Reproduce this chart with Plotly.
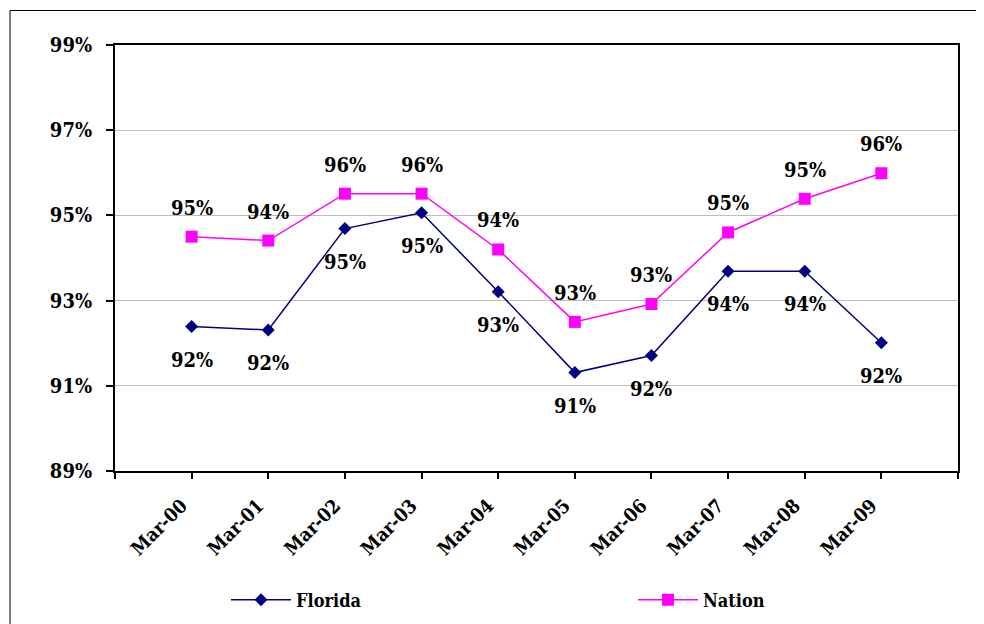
import plotly.graph_objects as go

categories = ["Mar-00", "Mar-01", "Mar-02", "Mar-03", "Mar-04",
              "Mar-05", "Mar-06", "Mar-07", "Mar-08", "Mar-09"]
florida = [92.39, 92.31, 94.69, 95.06, 93.21, 91.31, 91.71, 93.69, 93.69, 92.01]
nation = [94.50, 94.41, 95.51, 95.51, 94.20, 92.50, 92.92, 94.60, 95.39, 95.99]
y_ticks = [89, 91, 93, 95, 97, 99]
y_tick_labels = ["89%", "91%", "93%", "95%", "97%", "99%"]

FONT = "DejaVu Serif Condensed"
FS = 20


def pct(v):
    return f"{int(v + 0.5)}%"


x = list(range(len(categories)))

fig = go.Figure()
fig.add_trace(go.Scatter(
    x=x, y=florida, name="Florida", mode="lines+markers",
    line=dict(color="#000080", width=1.5),
    marker=dict(symbol="diamond", size=10, color="#000080"),
    legend="legend",
))
fig.add_trace(go.Scatter(
    x=x, y=nation, name="Nation", mode="lines+markers",
    line=dict(color="#FF00FF", width=1.5),
    marker=dict(symbol="square", size=12, color="#FF00FF"),
    legend="legend2",
))

bold = dict(family=FONT, size=FS, color="black", weight="bold")
legend_font = dict(family=FONT, size=18, color="black", weight="bold")

annotations = []
for xi, v in zip(x, florida):
    annotations.append(dict(x=xi, y=v, xref="x", yref="y", text=pct(v),
                            showarrow=False, yanchor="middle", xanchor="center",
                            yshift=-33, font=bold))
for xi, v in zip(x, nation):
    annotations.append(dict(x=xi, y=v, xref="x", yref="y", text=pct(v),
                            showarrow=False, yanchor="middle", xanchor="center",
                            yshift=29, font=bold))

tickvals_x = [-1] + x + [len(categories)]
ticktext_x = [""] + categories + [""]

legend_y = (471 - 600) / 426

fig.update_layout(
    width=976, height=616,
    margin=dict(l=107, r=26, t=37, b=153, autoexpand=False),
    paper_bgcolor="white", plot_bgcolor="white",
    font=bold,
    showlegend=True,
    legend=dict(orientation="h", x=(226 - 115) / 843, y=legend_y, xanchor="left", yanchor="middle",
                itemwidth=60, font=legend_font, bgcolor="rgba(0,0,0,0)"),
    legend2=dict(orientation="h", x=(633 - 115) / 843, y=legend_y, xanchor="left", yanchor="middle",
                 itemwidth=60, font=legend_font, bgcolor="rgba(0,0,0,0)"),
    annotations=annotations,
    shapes=[dict(type="rect", xref="paper", yref="paper",
                 x0=(10 - 115) / 843, x1=(1000 - 115) / 843,
                 y0=(471 - 640) / 426, y1=(471 - 10.5) / 426,
                 line=dict(color="black", width=1), fillcolor="rgba(0,0,0,0)", layer="below")],
)

fig.update_xaxes(
    range=[-1, len(categories)], automargin=False,
    tickmode="array", tickvals=tickvals_x, ticktext=ticktext_x,
    tickangle=-45, ticks="outside", ticklen=6, tickcolor="black", tickwidth=1.5,
    ticklabelstandoff=8, ticklabelshift=-10,
    showline=True, linecolor="black", linewidth=2, mirror=True,
    showgrid=False, zeroline=False,
    tickfont=dict(family=FONT, size=19, color="black", weight="bold"),
)
fig.update_yaxes(
    range=[89, 99], automargin=False,
    tickmode="array", tickvals=y_ticks, ticktext=y_tick_labels,
    ticks="outside", ticklen=7, tickcolor="black", tickwidth=1.5,
    ticklabelstandoff=10,
    showline=True, linecolor="black", linewidth=2, mirror=True,
    showgrid=True, gridcolor="#bdbdbd", gridwidth=1, zeroline=False,
    tickfont=bold,
)

fig.write_html("out.html")
